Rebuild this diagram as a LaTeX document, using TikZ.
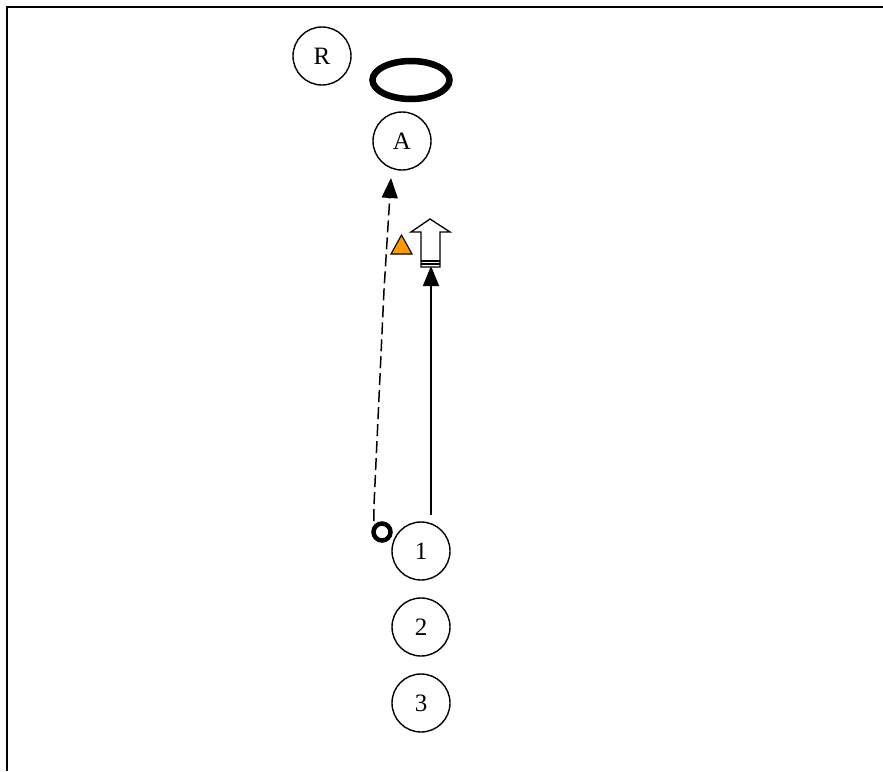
\documentclass[tikz,border=0pt]{standalone}
\usepackage{fontspec}
\setmainfont{Liberation Serif}
\usetikzlibrary{shapes.geometric, arrows.meta}
\begin{document}
\begin{tikzpicture}[x=1pt, y=-1pt, node distance={76pt}, main/.style = {draw, circle, minimum size=58pt, inner sep=0pt, line width=1.4pt, font=\fontsize{25}{25}\selectfont}, tip/.style = {-{Triangle[length=20pt, width=16pt]}}]
\useasboundingbox (0,0) rectangle (883,771);
\draw[line width=2pt] (7,771) -- (7,7) -- (883,7);
\node[main] (R) at (322,56) {R};
\node[draw, ellipse, line width=6.5pt, minimum width=77pt, minimum height=38pt, inner sep=0pt] (ring) at (411,80) {};
\node[main] (A) at (402,141) {A};
\node[main] (1) at (421,551) {1};
\node[main] (2) [below of=1] {2};
\node[main] (3) [below of=2] {3};
\node[draw, circle, line width=4.5pt, minimum size=17pt, inner sep=0pt] (o) at (382,532) {};
\coordinate (dtip) at (391,178);
\coordinate (s0) at (431,515);
\coordinate (s1) at (431,266);
\draw[tip, line width=1.5pt, dash pattern=on 12pt off 5pt, dash phase=-4pt] (o.140) -- (374,505) -- (384,290) -- (dtip);
\draw[tip, line width=1.6pt] (s0) -- (s1);
\draw[fill=white, line width=1.3pt] (421,267) -- (421,232) -- (411,232) -- (430,219) -- (450,232) -- (440,232) -- (440,267) -- cycle;
\draw[line width=1.2pt] (421,261) -- (440,261) (421,264) -- (440,264);
\draw[fill={rgb,255:red,255;green,153;blue,0}, line width=1.1pt] (391,254) -- (401.5,235) -- (412,254) -- cycle;
\end{tikzpicture}
\end{document}
